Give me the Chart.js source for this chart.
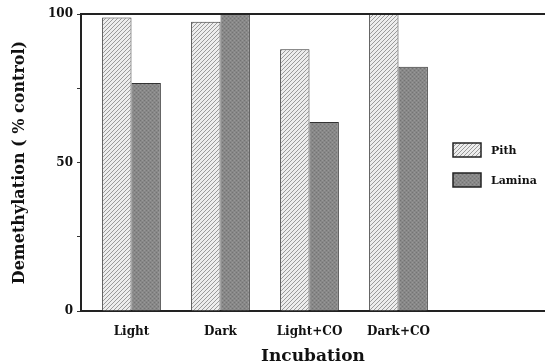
<!DOCTYPE html>
<html>
<head>
<meta charset="utf-8">
<script src="https://cdn.jsdelivr.net/npm/chart.js@4.4.1/dist/chart.umd.min.js"></script>
<style>
  html, body { margin: 0; padding: 0; background: #fff; }
  #wrap { width: 545px; height: 362px; position: relative; }
</style>
</head>
<body>
<div id="wrap"><canvas id="chart"></canvas></div>
<script>
/*
  Data
*/
var categories = ['Light', 'Dark', 'Light+CO', 'Dark+CO'];
var pith = [98.8, 97.4, 88.1, 100];
var lamina = [76.8, 100, 63.6, 82.2];
var yTickLabels = [0, 50, 100];

var serif = '"DejaVu Serif", "Liberation Serif", serif';

// hatched fill for pith
var makeHatch = () => {
  var c = document.createElement('canvas');
  c.width = 4; c.height = 4;
  var g = c.getContext('2d');
  g.fillStyle = '#ededed';
  g.fillRect(0, 0, 4, 4);
  g.fillStyle = '#9a9a9a';
  for (var i = 0; i < 4; i++) {
    g.fillRect(i, 3 - i, 1, 1);
  }
  return g.createPattern(c, 'repeat');
}

// stippled grey fill for lamina
var makeStipple = () => {
  var c = document.createElement('canvas');
  c.width = 4; c.height = 4;
  var g = c.getContext('2d');
  g.fillStyle = '#888888';
  g.fillRect(0, 0, 4, 4);
  g.fillStyle = '#747474';
  g.fillRect(0, 0, 1, 1);
  g.fillRect(2, 2, 1, 1);
  g.fillStyle = '#989898';
  g.fillRect(2, 0, 1, 1);
  g.fillRect(0, 2, 1, 1);
  return g.createPattern(c, 'repeat');
}

var hatch = makeHatch();
var stipple = makeStipple();

var toPoints = (vals) => vals.map((v, i) => ({x: i + 1, y: v}));

// top frame line + legend drawn inside the plot
var framePlugin = {
  id: 'frame',
  afterDraw(chart) {
    var ctx = chart.ctx;
    var a = chart.chartArea;
    ctx.save();
    ctx.strokeStyle = '#222';
    ctx.lineWidth = 2;
    ctx.beginPath();
    ctx.moveTo(a.left, a.top);
    ctx.lineTo(a.right, a.top);
    ctx.stroke();

    var items = chart.data.datasets;
    ctx.font = 'bold 11px ' + serif;
    ctx.textBaseline = 'middle';
    items.forEach((ds, i) => {
      var y = 143 + i * 30;
      ctx.fillStyle = ds.backgroundColor;
      ctx.fillRect(453, y, 28, 14);
      ctx.lineWidth = 1.5;
      ctx.strokeStyle = '#222';
      ctx.strokeRect(453, y, 28, 14);
      ctx.fillStyle = '#111';
      ctx.fillText(ds.label, 491, y + 8);
    });
    ctx.restore();
  }
}

var chart = new Chart(document.getElementById('chart'), {
  type: 'bar',
  data: {
    datasets: [{
      label: 'Pith',
      data: toPoints(pith),
      backgroundColor: hatch,
      borderColor: '#333',
      borderWidth: 1
    }, {
      label: 'Lamina',
      data: toPoints(lamina),
      backgroundColor: stipple,
      borderColor: '#333',
      borderWidth: 1
    }]
  },
  options: {
    responsive: true,
    maintainAspectRatio: false,
    animation: false,
    layout: {
      padding: {top: 14, right: 0, left: 0, bottom: 0}
    },
    datasets: {
      bar: {
        categoryPercentage: 0.66,
        barPercentage: 1
      }
    },
    plugins: {
      legend: { display: false },
      tooltip: { enabled: false }
    },
    scales: {
      x: {
        type: 'linear',
        offset: false,
        min: 0.4326,
        max: 5.646,
        afterBuildTicks: (scale) => {
          scale.ticks = categories.map((c, i) => ({value: i + 1}));
        },
        afterFit: (scale) => { scale.height = 51; },
        grid: { display: false, drawTicks: false },
        border: { display: true, color: '#222', width: 2 },
        ticks: {
          color: '#111',
          padding: 14,
          font: { family: serif, size: 12, weight: 'bold' },
          callback: (v) => categories[v - 1] || ''
        },
        title: {
          display: true,
          text: 'Incubation',
          color: '#111',
          padding: {top: 0, bottom: 0},
          font: { family: serif, size: 17, weight: 'bold', lineHeight: 0.6 }
        }
      },
      y: {
        min: 0,
        max: 100,
        afterBuildTicks: (scale) => {
          scale.ticks = [0, 25, 50, 75, 100].map(v => ({value: v}));
        },
        afterFit: (scale) => { scale.width = 81; },
        grid: {
          display: true,
          drawOnChartArea: false,
          drawTicks: true,
          tickLength: 4,
          color: '#333'
        },
        border: { display: true, color: '#222', width: 2 },
        ticks: {
          color: '#111',
          padding: 4,
          font: { family: serif, size: 12, weight: 'bold' },
          callback: (v) => yTickLabels.indexOf(v) >= 0 ? String(v) : ''
        },
        title: {
          display: true,
          text: 'Demethylation ( % control)',
          color: '#111',
          padding: {top: 10, bottom: 0},
          font: { family: serif, size: 16, weight: 'bold' }
        }
      }
    }
  },
  plugins: [framePlugin]
})
</script>
</body>
</html>
